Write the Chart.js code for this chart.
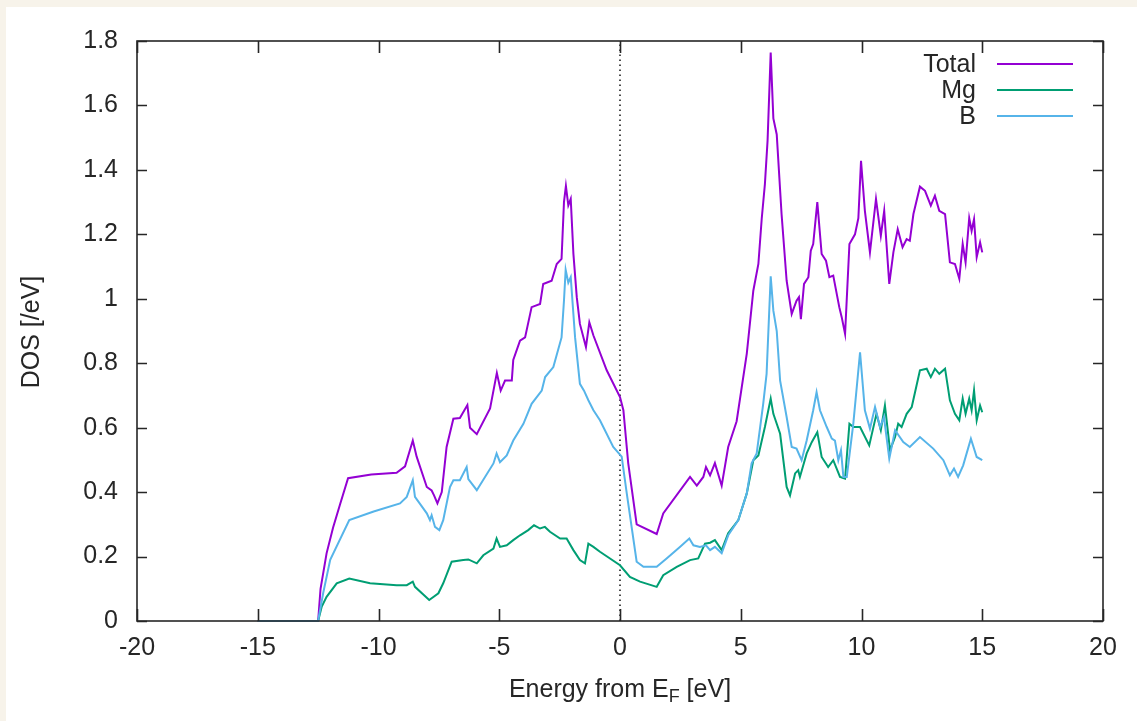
<!DOCTYPE html>
<html>
<head>
<meta charset="utf-8">
<script src="https://cdn.jsdelivr.net/npm/chart.js@4"></script>
<style>
  html, body { margin: 0; padding: 0; width: 1137px; height: 721px; background: #f7f3ea; overflow: hidden; }
  #wrap { position: absolute; left: 6px; top: 7px; width: 1131px; height: 714px; background: #ffffff; }
  canvas { display: block; }
</style>
</head>
<body>
<div id="wrap"><canvas id="c"></canvas></div>
<script>
// ---- Data ----
const seriesNames = ['Total', 'Mg', 'B'];

const totalE = [
  -15, -12.5, -12.4, -12.15, -11.88, -11.6, -11.26, -10.3, -9.25, -8.9,
  -8.58, -8.42, -8.0, -7.8, -7.7, -7.56, -7.38, -7.18, -6.9, -6.63,
  -6.32, -6.21, -5.93, -5.38, -5.1, -4.94, -4.76, -4.48, -4.42, -4.14,
  -3.93, -3.66, -3.31, -3.18, -2.83, -2.62, -2.42, -2.32, -2.24, -2.14,
  -2.04, -1.93, -1.79, -1.66, -1.41, -1.27, -1.1, -0.55, 0, 0.14,
  0.34, 0.69, 1.52, 1.79, 2.9, 3.18, 3.45, 3.56, 3.73, 3.93,
  4.21, 4.48, 4.83, 5.25, 5.52, 5.73, 5.87, 6.0, 6.11, 6.24,
  6.35, 6.49, 6.69, 6.9, 7.11, 7.31, 7.41, 7.49, 7.62, 7.8,
  7.9, 8.0, 8.17, 8.35, 8.53, 8.67, 8.83, 9.08, 9.18, 9.32,
  9.5, 9.73, 9.87, 9.98, 10.14, 10.35, 10.6, 10.8, 10.94, 11.15,
  11.32, 11.5, 11.7, 11.87, 12.0, 12.15, 12.42, 12.63, 12.87, 13.04,
  13.22, 13.46, 13.66, 13.87, 14.05, 14.19, 14.31, 14.46, 14.56, 14.66,
  14.77, 14.91, 15.0
];
const totalDOS = [
  0, 0, 0.1, 0.21, 0.29, 0.36, 0.443, 0.455, 0.46, 0.48,
  0.56, 0.51, 0.416, 0.405, 0.39, 0.365, 0.40, 0.54, 0.628, 0.63,
  0.67, 0.60, 0.58, 0.66, 0.77, 0.715, 0.746, 0.746, 0.81, 0.87,
  0.88, 0.974, 0.984, 1.046, 1.056, 1.108, 1.124, 1.30, 1.35, 1.29,
  1.31, 1.14, 1.005, 0.922, 0.85, 0.927, 0.886, 0.778, 0.695, 0.654,
  0.49, 0.30, 0.27, 0.334, 0.447, 0.42, 0.447, 0.478, 0.452, 0.49,
  0.42, 0.54, 0.62, 0.83, 1.025, 1.108, 1.25, 1.356, 1.49, 1.764,
  1.56, 1.51, 1.263, 1.056, 0.953, 0.994, 1.005, 0.937, 1.046, 1.067,
  1.149, 1.17, 1.30, 1.139, 1.118, 1.067, 1.072, 0.974, 0.943, 0.891,
  1.17, 1.2, 1.25, 1.428, 1.273, 1.144, 1.31, 1.196, 1.273, 1.046,
  1.144, 1.216, 1.16, 1.185, 1.18, 1.263, 1.348, 1.335, 1.289, 1.32,
  1.273, 1.263, 1.113, 1.108, 1.062, 1.17, 1.113, 1.25, 1.211, 1.247,
  1.129, 1.175, 1.144
];

const mgE = [
  -15, -12.5, -12.35, -12.15, -11.73, -11.21, -10.35, -9.25, -8.83, -8.58,
  -8.49, -7.9, -7.52, -7.32, -6.97, -6.49, -6.28, -5.93, -5.66, -5.24,
  -5.11, -4.97, -4.69, -4.42, -4.14, -3.8, -3.56, -3.31, -3.11, -2.9,
  -2.48, -2.21, -1.93, -1.66, -1.45, -1.31, -1.1, -0.83, 0, 0.41,
  0.83, 1.52, 1.79, 2.35, 2.9, 3.24, 3.52, 3.73, 3.93, 4.21,
  4.48, 4.9, 5.25, 5.52, 5.73, 6.0, 6.24, 6.35, 6.63, 6.9,
  7.04, 7.25, 7.38, 7.45, 7.73, 7.94, 8.17, 8.35, 8.62, 8.83,
  9.11, 9.32, 9.5, 9.66, 9.94, 10.32, 10.62, 10.8, 10.97, 11.18,
  11.39, 11.52, 11.66, 11.87, 12.08, 12.42, 12.7, 12.87, 13.04, 13.22,
  13.46, 13.66, 13.87, 14.05, 14.19, 14.31, 14.46, 14.56, 14.66, 14.77,
  14.91, 15.0
];
const mgDOS = [
  0, 0, 0.045, 0.075, 0.117, 0.132, 0.117, 0.111, 0.111, 0.122,
  0.106, 0.065, 0.086, 0.117, 0.184, 0.189, 0.191, 0.179, 0.204, 0.225,
  0.256, 0.23, 0.235, 0.251, 0.266, 0.282, 0.297, 0.287, 0.292, 0.277,
  0.256, 0.256, 0.22, 0.189, 0.179, 0.24, 0.23, 0.215, 0.173, 0.137,
  0.122, 0.106, 0.142, 0.168, 0.189, 0.194, 0.24, 0.243, 0.251, 0.22,
  0.272, 0.313, 0.396, 0.499, 0.514, 0.602, 0.69, 0.643, 0.581, 0.416,
  0.39, 0.458, 0.468, 0.447, 0.52, 0.555, 0.586, 0.509, 0.478, 0.499,
  0.447, 0.442, 0.612, 0.602, 0.602, 0.545, 0.643, 0.592, 0.669, 0.53,
  0.571, 0.612, 0.602, 0.643, 0.664, 0.778, 0.783, 0.757, 0.783, 0.767,
  0.783, 0.685, 0.643, 0.623, 0.69, 0.643, 0.69, 0.654, 0.716, 0.623,
  0.669, 0.648
];

const bE = [
  -15, -12.5, -12.29, -12.0, -11.21, -10.2, -9.11, -8.83, -8.58, -8.49,
  -8.0, -7.87, -7.8, -7.66, -7.48, -7.32, -7.04, -6.9, -6.63, -6.35,
  -6.28, -5.93, -5.24, -5.11, -4.97, -4.69, -4.42, -4.0, -3.66, -3.24,
  -3.1, -2.76, -2.42, -2.32, -2.25, -2.14, -2.04, -1.86, -1.66, -1.49,
  -1.31, -1.1, -0.83, -0.28, 0.07, 0.28, 0.69, 0.97, 1.52, 1.93,
  2.48, 2.87, 3.04, 3.31, 3.56, 3.73, 3.93, 4.21, 4.48, 4.9,
  5.25, 5.45, 5.66, 5.93, 6.07, 6.24, 6.35, 6.49, 6.63, 6.9,
  7.11, 7.31, 7.52, 7.73, 8.0, 8.14, 8.28, 8.56, 8.77, 8.9,
  9.04, 9.15, 9.25, 9.39, 9.66, 9.94, 10.14, 10.35, 10.56, 10.77,
  10.93, 11.15, 11.39, 11.73, 12.0, 12.42, 12.97, 13.39, 13.66, 13.83,
  14.0, 14.21, 14.53, 14.77, 15.0
];
const bDOS = [
  0, 0, 0.087, 0.19, 0.313, 0.34, 0.365, 0.385, 0.437, 0.385,
  0.334, 0.313, 0.328, 0.292, 0.282, 0.313, 0.416, 0.437, 0.437, 0.478,
  0.44, 0.406, 0.489, 0.52, 0.493, 0.514, 0.56, 0.612, 0.674, 0.715,
  0.757, 0.788, 0.88, 0.994, 1.09, 1.05, 1.067, 0.88, 0.736, 0.715,
  0.685, 0.654, 0.623, 0.54, 0.51, 0.396, 0.184, 0.168, 0.168, 0.194,
  0.23, 0.256, 0.235, 0.23, 0.235, 0.22, 0.23, 0.21, 0.266, 0.313,
  0.396, 0.489, 0.52, 0.674, 0.767, 1.07, 0.963, 0.90, 0.746, 0.633,
  0.54, 0.535, 0.499, 0.56, 0.654, 0.71, 0.654, 0.602, 0.566, 0.56,
  0.499, 0.53, 0.447, 0.447, 0.612, 0.834, 0.654, 0.597, 0.664, 0.602,
  0.633, 0.504, 0.592, 0.555, 0.54, 0.571, 0.535, 0.499, 0.452, 0.473,
  0.447, 0.483, 0.566, 0.509, 0.499
];

const xTicks = [-20, -15, -10, -5, 0, 5, 10, 15, 20];
const xTickLabels = ['-20', '-15', '-10', '-5', '0', '5', '10', '15', '20'];
const yTicks = [0, 0.2, 0.4, 0.6, 0.8, 1.0, 1.2, 1.4, 1.6, 1.8];
const yTickLabels = ['0', '0.2', '0.4', '0.6', '0.8', '1', '1.2', '1.4', '1.6', '1.8'];

const xTitleMain = 'Energy from E';
const xTitleSub = 'F';
const xTitleTail = ' [eV]';
const yTitle = 'DOS [/eV]';

// ---- Styling ----
const colors = ['#9400d3', '#009e73', '#56b4e9'];
const FONT = '"Liberation Sans", Arial, sans-serif';
const TXT = '#262626';

function pts(xs, ys) { return xs.map((e, i) => ({ x: e, y: ys[i] })); }

const gnuplotDecor = {
  id: 'gnuplotDecor',
  beforeDatasetsDraw(chart) {
    const { ctx, chartArea: a, scales: { x } } = chart;
    const px = x.getPixelForValue(0);
    ctx.save();
    ctx.strokeStyle = '#000';
    ctx.lineWidth = 1.4;
    ctx.setLineDash([1.6, 3.4]);
    ctx.beginPath();
    ctx.moveTo(px, a.bottom);
    ctx.lineTo(px, a.top);
    ctx.stroke();
    ctx.restore();
  },
  afterDatasetsDraw(chart) {
    const { ctx, chartArea: a, scales: { x, y } } = chart;
    ctx.save();
    ctx.strokeStyle = '#262626';
    ctx.lineWidth = 1.6;
    ctx.strokeRect(a.left, a.top, a.right - a.left, a.bottom - a.top);
    ctx.beginPath();
    xTicks.forEach(v => {
      const p = Math.round(x.getPixelForValue(v)) + 0.5;
      ctx.moveTo(p, a.bottom); ctx.lineTo(p, a.bottom - 12);
      ctx.moveTo(p, a.top); ctx.lineTo(p, a.top + 12);
    });
    yTicks.forEach(v => {
      const p = Math.round(y.getPixelForValue(v)) + 0.5;
      ctx.moveTo(a.left, p); ctx.lineTo(a.left + 10, p);
      ctx.moveTo(a.right, p); ctx.lineTo(a.right - 10, p);
    });
    ctx.stroke();

    // legend (gnuplot style: right-aligned text, then line sample)
    ctx.font = '25px ' + FONT;
    ctx.fillStyle = TXT;
    ctx.textAlign = 'right';
    ctx.textBaseline = 'middle';
    const ds = chart.data.datasets;
    seriesNames.forEach((name, i) => {
      const yy = 57 + i * 26;
      ctx.fillText(name, 970, yy + 1);
      ctx.strokeStyle = ds[i].borderColor;
      ctx.lineWidth = 2;
      ctx.beginPath();
      ctx.moveTo(991, yy); ctx.lineTo(1067, yy);
      ctx.stroke();
    });

    // x-axis title with subscript
    const big = '25px ' + FONT, small = '18px ' + FONT;
    ctx.font = big; const w1 = ctx.measureText(xTitleMain).width;
    const w3 = ctx.measureText(xTitleTail).width;
    ctx.font = small; const w2 = ctx.measureText(xTitleSub).width;
    const total = w1 + w2 + w3;
    let sx = (a.left + a.right) / 2 - total / 2;
    const base = 690;
    ctx.textAlign = 'left';
    ctx.textBaseline = 'alphabetic';
    ctx.fillStyle = TXT;
    ctx.font = big; ctx.fillText(xTitleMain, sx, base);
    ctx.font = small; ctx.fillText(xTitleSub, sx + w1, base + 5);
    ctx.font = big; ctx.fillText(xTitleTail, sx + w1 + w2, base);

    // y-axis title
    ctx.save();
    ctx.translate(26, 325);
    ctx.rotate(-Math.PI / 2);
    ctx.textAlign = 'center';
    ctx.textBaseline = 'middle';
    ctx.font = big;
    ctx.fillText(yTitle, 0, 0);
    ctx.restore();
    ctx.restore();
  }
};

new Chart(document.getElementById('c'), {
  type: 'line',
  data: {
    datasets: [
      { label: seriesNames[0], data: pts(totalE, totalDOS), borderColor: colors[0], order: 2 },
      { label: seriesNames[1], data: pts(mgE, mgDOS), borderColor: colors[1], order: 1 },
      { label: seriesNames[2], data: pts(bE, bDOS), borderColor: colors[2], order: 0 }
    ].map(d => Object.assign(d, { borderWidth: 2, pointRadius: 0, tension: 0, fill: false, clip: 4 }))
  },
  options: {
    responsive: true,
    maintainAspectRatio: false,
    animation: false,
    events: [],
    layout: { padding: { top: 33, right: 34, left: 0, bottom: 0 } },
    plugins: { legend: { display: false }, tooltip: { enabled: false }, title: { display: false } },
    scales: {
      x: {
        type: 'linear', min: -20, max: 20,
        afterBuildTicks: s => { s.ticks = xTicks.map(v => ({ value: v })); },
        afterFit: s => { s.height = 100; },
        grid: { display: false, drawTicks: false },
        border: { display: false },
        ticks: {
          autoSkip: false, maxRotation: 0, padding: 12, color: TXT,
          font: { family: FONT, size: 25 },
          callback: (v, i) => xTickLabels[i]
        }
      },
      y: {
        type: 'linear', min: 0, max: 1.8,
        afterBuildTicks: s => { s.ticks = yTicks.map(v => ({ value: v })); },
        afterFit: s => { s.width = 131; },
        grid: { display: false, drawTicks: false },
        border: { display: false },
        ticks: {
          autoSkip: false, padding: 19, color: TXT,
          font: { family: FONT, size: 25 },
          callback: (v, i) => yTickLabels[i]
        }
      }
    }
  },
  plugins: [gnuplotDecor]
});
</script>
</body>
</html>
